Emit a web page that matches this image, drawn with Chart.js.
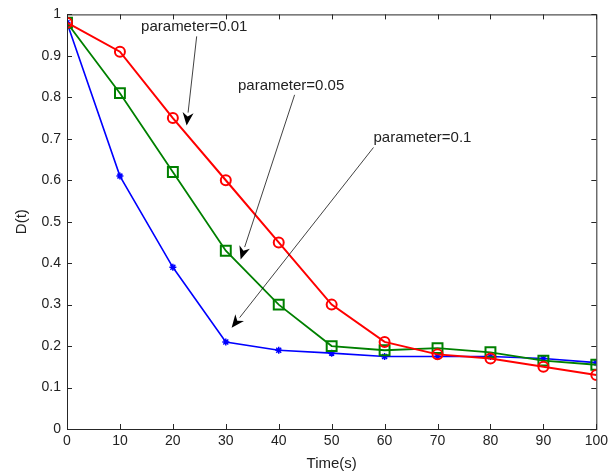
<!DOCTYPE html>
<html>
<head>
<meta charset="utf-8">
<title>D(t) vs Time</title>
<script src="https://cdn.jsdelivr.net/npm/chart.js@4.4.1/dist/chart.umd.min.js"></script>
<style>
    html, body { margin: 0; padding: 0; background: #ffffff; }
    #chart { display: block; }
</style>
</head>
<body>
<canvas id="chart" width="612" height="473"></canvas>
<script>
// Data
const timeValues = [0, 10, 20, 30, 40, 50, 60, 70, 80, 90, 100];
const param001 = [0.98, 0.91, 0.75, 0.60, 0.45, 0.30, 0.21, 0.18, 0.17, 0.15, 0.13];
const param005 = [0.98, 0.81, 0.62, 0.43, 0.30, 0.20, 0.19, 0.195, 0.185, 0.165, 0.155];
const param01 = [0.98, 0.61, 0.39, 0.21, 0.19, 0.183, 0.175, 0.175, 0.175, 0.17, 0.16];

// Text callouts: label, text anchor (data units), arrow tail and tip (data units)
const calloutLabels = ['parameter=0.01', 'parameter=0.05', 'parameter=0.1'];
const calloutText = [[14.0, 0.971], [32.3, 0.828], [57.9, 0.703]];
const calloutTail = [[24.5, 0.947], [43.0, 0.806], [57.9, 0.679]];
const calloutTip = [[22.6, 0.732], [32.8, 0.409], [31.1, 0.244]];

const FONT = '"Liberation Sans", Arial, sans-serif';
const INK = '#222222';

function toPoints(values) {
    return timeValues.map((t, i) => ({ x: t, y: values[i] }));
}

// Box around the plot with inward ticks on all four sides
const boxPlugin = {
    id: 'box',
    afterDatasetsDraw(chart) {
        const { ctx, chartArea: a, scales } = chart;
        ctx.save();
        ctx.strokeStyle = '#262626';
        ctx.lineWidth = 1;
        ctx.strokeRect(a.left + 0.5, a.top + 0.5, a.right - a.left, a.bottom - a.top);
        const len = 5;
        ctx.beginPath();
        scales.x.ticks.forEach(t => {
            const px = Math.round(scales.x.getPixelForValue(t.value)) + 0.5;
            ctx.moveTo(px, a.bottom); ctx.lineTo(px, a.bottom - len);
            ctx.moveTo(px, a.top); ctx.lineTo(px, a.top + len);
        });
        scales.y.ticks.forEach(t => {
            const py = Math.round(scales.y.getPixelForValue(t.value)) + 0.5;
            ctx.moveTo(a.left, py); ctx.lineTo(a.left + len, py);
            ctx.moveTo(a.right, py); ctx.lineTo(a.right - len, py);
        });
        ctx.stroke();
        ctx.restore();
    }
};

// Labels with arrows pointing at the curves
const calloutPlugin = {
    id: 'callouts',
    afterDatasetsDraw(chart) {
        const { ctx, scales } = chart;
        const px = v => scales.x.getPixelForValue(v);
        const py = v => scales.y.getPixelForValue(v);
        ctx.save();
        calloutLabels.forEach((label, i) => {
            ctx.fillStyle = INK;
            ctx.font = '15px ' + FONT;
            ctx.textAlign = 'left';
            ctx.textBaseline = 'middle';
            ctx.fillText(label, px(calloutText[i][0]), py(calloutText[i][1]));

            const x0 = px(calloutTail[i][0]), y0 = py(calloutTail[i][1]);
            const x1 = px(calloutTip[i][0]), y1 = py(calloutTip[i][1]);
            const ang = Math.atan2(y1 - y0, x1 - x0);
            const headLen = 13, headW = 5.5;
            const bx = x1 - headLen * Math.cos(ang), by = y1 - headLen * Math.sin(ang);

            ctx.strokeStyle = '#111111';
            ctx.lineWidth = 0.8;
            ctx.beginPath();
            ctx.moveTo(x0, y0);
            ctx.lineTo(bx, by);
            ctx.stroke();

            // filled head with a slight notch
            const nx = -Math.sin(ang), ny = Math.cos(ang);
            const mx = x1 - headLen * 0.7 * Math.cos(ang), my = y1 - headLen * 0.7 * Math.sin(ang);
            ctx.fillStyle = '#000000';
            ctx.beginPath();
            ctx.moveTo(x1, y1);
            ctx.lineTo(bx + nx * headW, by + ny * headW);
            ctx.lineTo(mx, my);
            ctx.lineTo(bx - nx * headW, by - ny * headW);
            ctx.closePath();
            ctx.fill();
        });
        ctx.restore();
    }
};

const ctx = document.getElementById('chart').getContext('2d');

new Chart(ctx, {
    type: 'line',
    data: {
        datasets: [
            {
                label: 'parameter=0.01',
                data: toPoints(param001),
                borderColor: '#ff0000',
                backgroundColor: 'rgba(0,0,0,0)',
                borderWidth: 2,
                pointStyle: 'circle',
                pointRadius: 5,
                pointBorderWidth: 2,
                pointBorderColor: '#ff0000',
                pointBackgroundColor: 'rgba(0,0,0,0)',
                tension: 0,
                order: 1
            },
            {
                label: 'parameter=0.05',
                data: toPoints(param005),
                borderColor: '#008000',
                backgroundColor: 'rgba(0,0,0,0)',
                borderWidth: 1.8,
                pointStyle: 'rect',
                pointRadius: 7,
                pointBorderWidth: 2,
                pointBorderColor: '#008000',
                pointBackgroundColor: 'rgba(0,0,0,0)',
                tension: 0,
                order: 2
            },
            {
                label: 'parameter=0.1',
                data: toPoints(param01),
                borderColor: '#0000ff',
                backgroundColor: 'rgba(0,0,0,0)',
                borderWidth: 1.6,
                pointStyle: 'star',
                pointRadius: 3.5,
                pointBorderWidth: 1.5,
                pointBorderColor: '#0000ff',
                pointBackgroundColor: 'rgba(0,0,0,0)',
                tension: 0,
                order: 3
            }
        ]
    },
    options: {
        responsive: false,
        animation: false,
        layout: { padding: { top: 11, right: 13, left: 0, bottom: 0 } },
        plugins: {
            legend: { display: false },
            tooltip: { enabled: false }
        },
        scales: {
            x: {
                type: 'linear',
                min: 0,
                max: 100,
                ticks: { stepSize: 10, color: INK, font: { family: FONT, size: 14 }, padding: 4, maxRotation: 0 },
                grid: { display: false, drawTicks: false },
                border: { display: false },
                title: { display: true, text: 'Time(s)', color: INK, font: { family: FONT, size: 15 }, padding: { top: 0, bottom: 0 } },
                afterFit: scale => { scale.height = 44; }
            },
            y: {
                min: 0,
                max: 1,
                ticks: {
                    stepSize: 0.1,
                    color: INK,
                    font: { family: FONT, size: 14 },
                    padding: 6,
                    callback: value => String(Number(value.toFixed(1)))
                },
                grid: { display: false, drawTicks: false },
                border: { display: false },
                title: { display: true, text: 'D(t)', color: INK, font: { family: FONT, size: 15 }, padding: { top: 13, bottom: 0 } },
                afterFit: scale => { scale.width = 67; }
            }
        }
    },
    plugins: [boxPlugin, calloutPlugin]
});
</script>
</body>
</html>
